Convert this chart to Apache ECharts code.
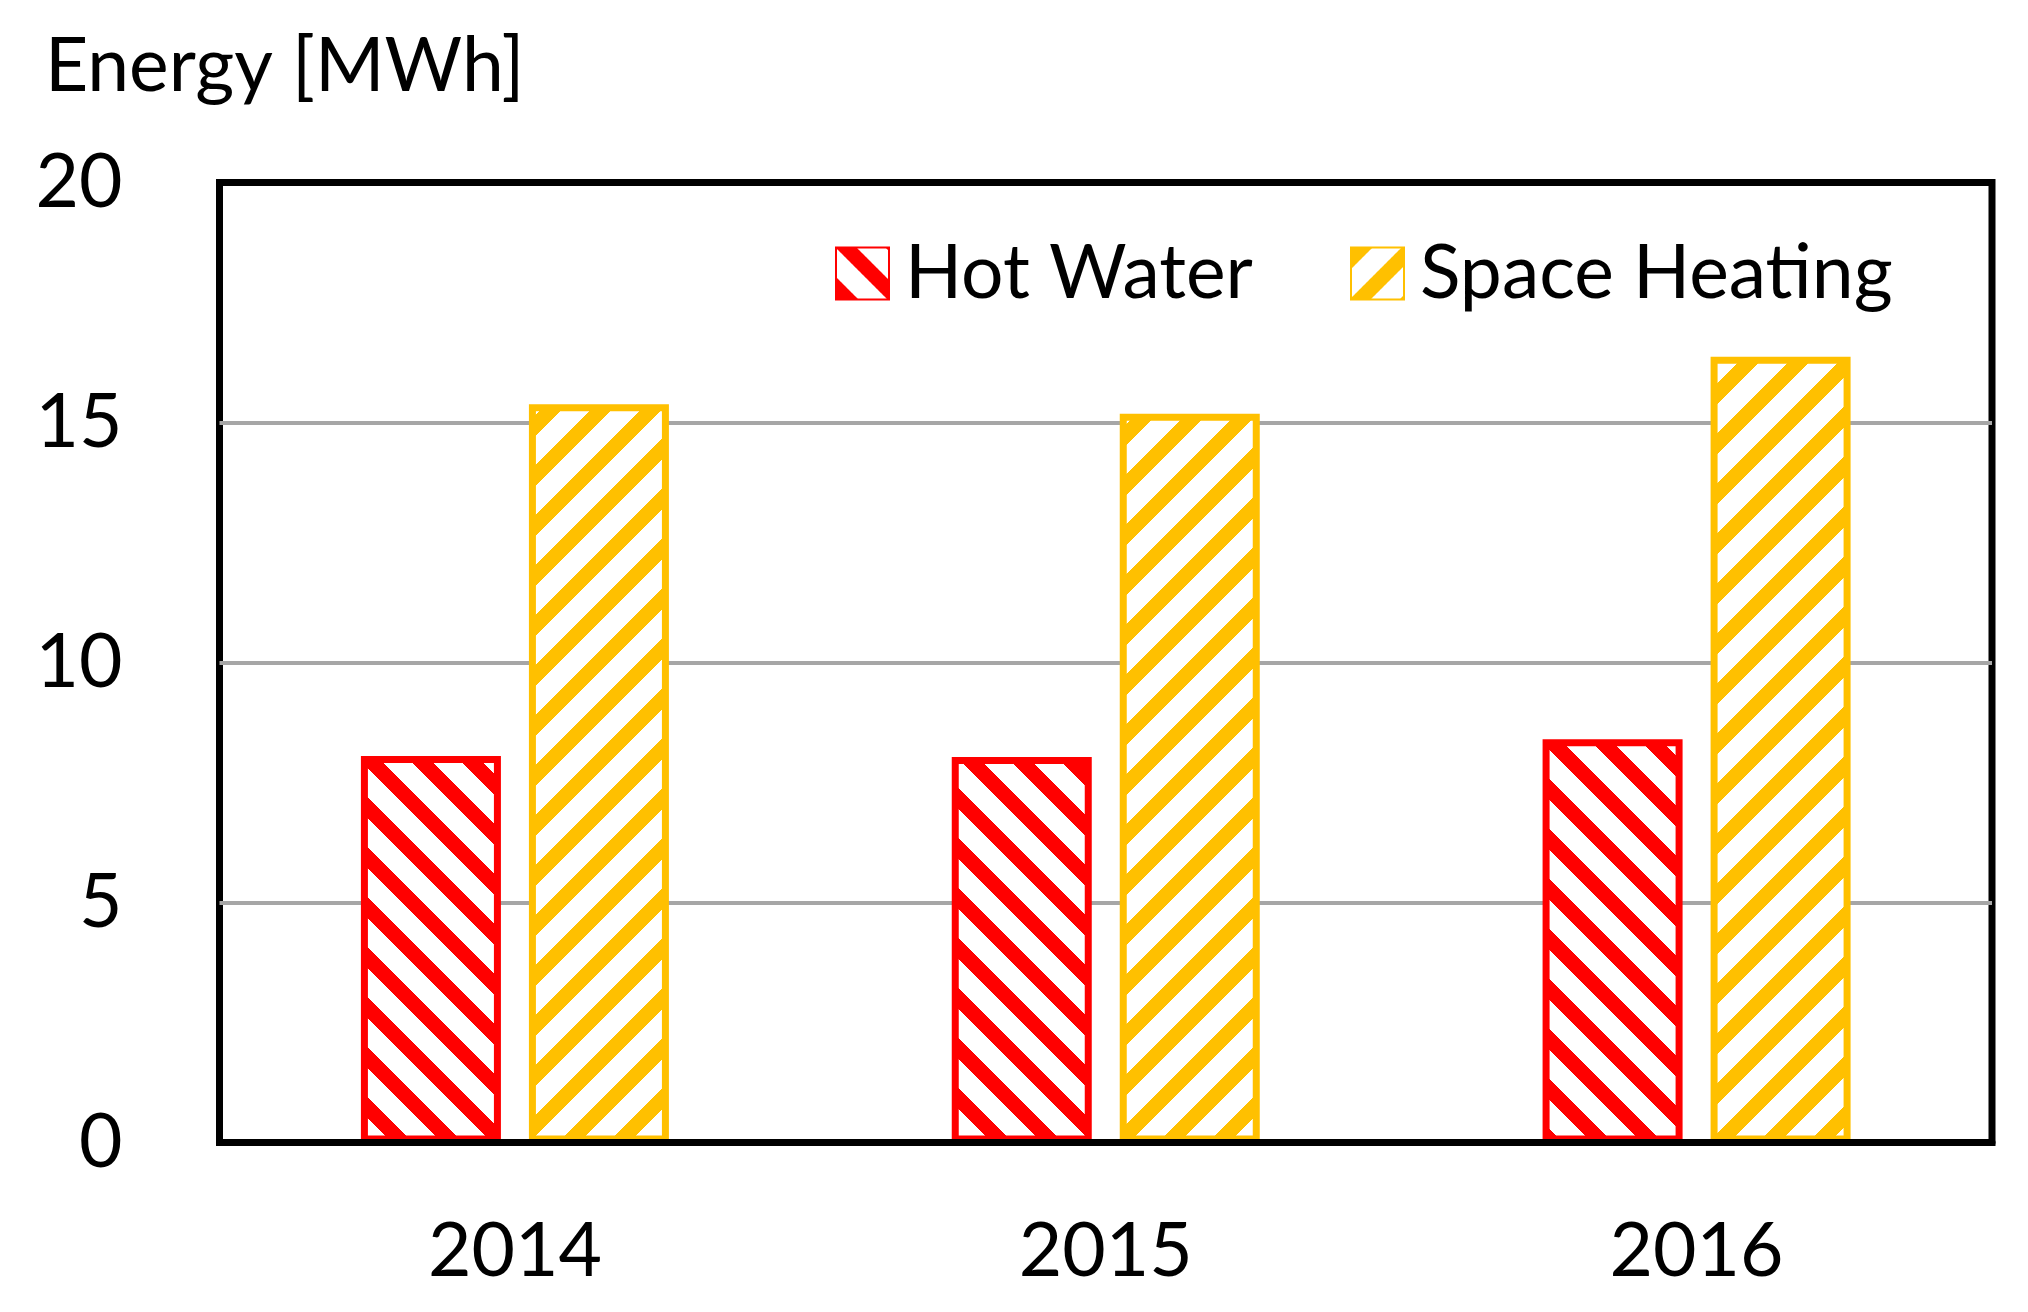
<!DOCTYPE html>
<html>
<head>
<meta charset="utf-8">
<script src="https://cdn.jsdelivr.net/npm/echarts@6/dist/echarts.min.js"></script>
<style>
html,body{margin:0;padding:0;background:#fff;}
#chart{width:2028px;height:1312px;}
</style>
</head>
<body>
<div id="chart"></div>
<script>
const categories = ['2014', '2015', '2016'];
const hotWater = [8.05, 8.03, 8.40];
const spaceHeating = [15.38, 15.18, 16.37];
const seriesNames = ['Hot Water', 'Space Heating'];
const axisTitle = 'Energy [MWh]';
const yMin = 0, yMax = 20, yStep = 5;

const FONT = 'Lato';
const RED = '#FF0000';
const YELLOW = '#FFC000';

function stripePattern(color, dir) {
  const size = 50, band = 21;
  const c = document.createElement('canvas');
  c.width = size; c.height = size;
  const ctx = c.getContext('2d');
  const img = ctx.createImageData(size, size);
  const r = parseInt(color.slice(1, 3), 16), g = parseInt(color.slice(3, 5), 16), b = parseInt(color.slice(5, 7), 16);
  for (let y = 0; y < size; y++) {
    for (let x = 0; x < size; x++) {
      const v = dir === '/' ? (x + y) : (x - y + size);
      const on = (v % size) < band;
      const i = (y * size + x) * 4;
      img.data[i] = on ? r : 255;
      img.data[i + 1] = on ? g : 255;
      img.data[i + 2] = on ? b : 255;
      img.data[i + 3] = 255;
    }
  }
  ctx.putImageData(img, 0, 0);
  return { image: c, repeat: 'repeat' };
}

const chart = echarts.init(document.getElementById('chart'), null, { renderer: 'canvas' });
const legendText = { fontFamily: FONT, fontSize: 75, color: '#000', padding: [0, 0, 0, 11] };
chart.setOption({
  backgroundColor: '#fff',
  animation: false,
  title: {
    text: axisTitle,
    left: 45, top: 29, padding: 0,
    textStyle: { fontFamily: FONT, fontSize: 75, fontWeight: 'normal', color: '#000' }
  },
  legend: [
    { data: [seriesNames[0]], left: 835, top: 236, padding: 0, itemWidth: 53, itemHeight: 52, icon: 'rect', textStyle: legendText },
    { data: [seriesNames[1]], left: 1350, top: 236, padding: 0, itemWidth: 53, itemHeight: 52, icon: 'rect', textStyle: legendText }
  ],
  grid: {
    left: 219.5, right: 36, top: 182.5, bottom: 169.5,
    show: true, borderColor: '#000', borderWidth: 7, backgroundColor: 'transparent'
  },
  xAxis: {
    type: 'category',
    data: categories,
    z: 5,
    axisLine: { show: true, lineStyle: { color: '#000', width: 7 } },
    axisTick: { show: false },
    axisLabel: { margin: 72, fontFamily: FONT, fontSize: 75, color: '#000' },
    splitLine: { show: false }
  },
  yAxis: {
    type: 'value',
    min: yMin, max: yMax, interval: yStep,
    axisLine: { show: false },
    axisTick: { show: false },
    axisLabel: { margin: 97, fontFamily: FONT, fontSize: 75, color: '#000' },
    splitLine: { show: true, showMinLine: false, showMaxLine: false, lineStyle: { color: '#A6A6A6', width: 4 } }
  },
  series: [
    {
      name: seriesNames[0], type: 'bar', data: hotWater,
      barWidth: 140, barGap: '20%',
      itemStyle: { color: stripePattern(RED, '\\'), borderColor: RED, borderWidth: 7 }
    },
    {
      name: seriesNames[1], type: 'bar', data: spaceHeating,
      barWidth: 140,
      itemStyle: { color: stripePattern(YELLOW, '/'), borderColor: YELLOW, borderWidth: 7 }
    }
  ]
});
</script>
</body>
</html>
